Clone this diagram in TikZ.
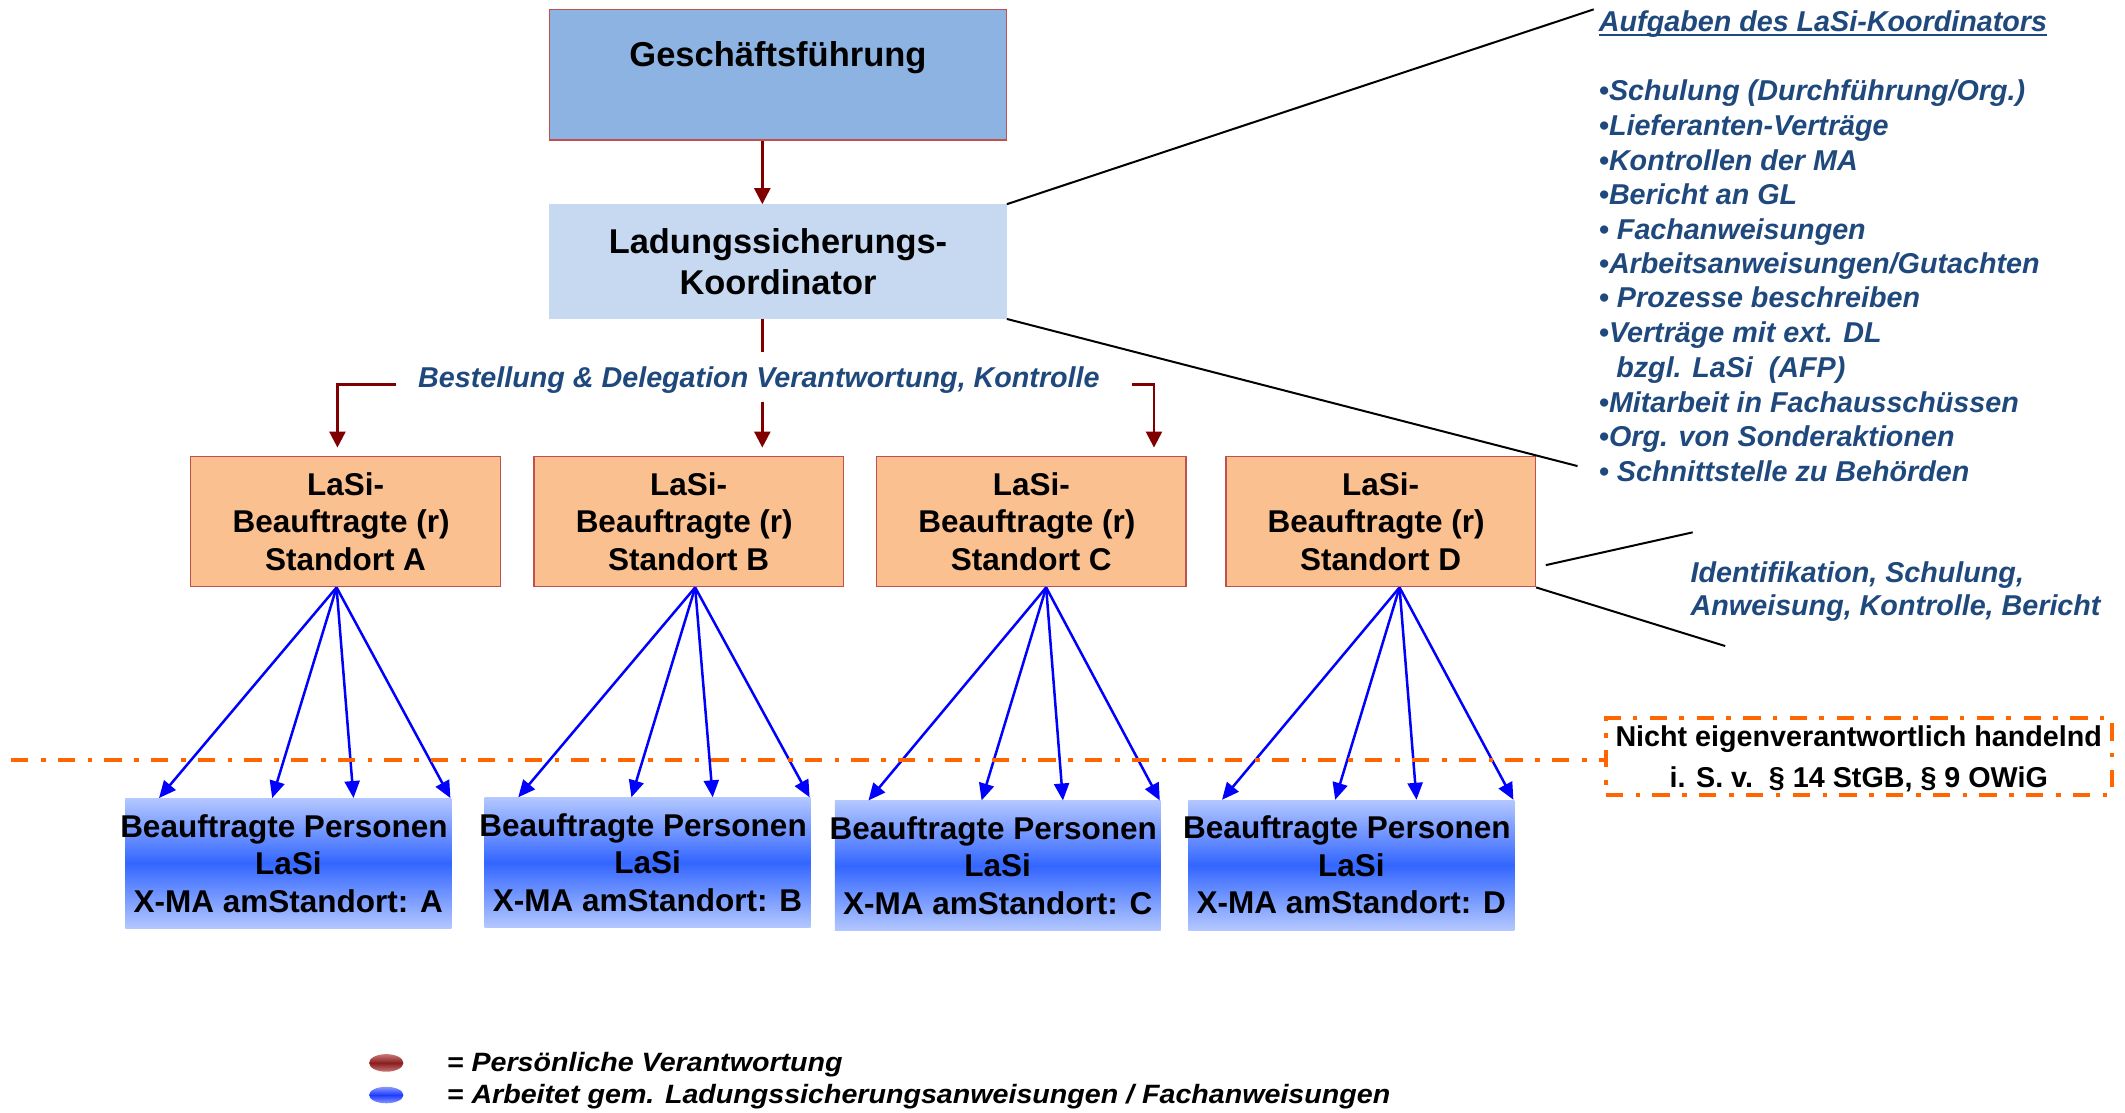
\documentclass[tikz,border=0pt]{standalone}
\usepackage{fontspec}
\setmainfont{Liberation Sans}
\newfontfamily\legfont{Liberation Sans}[FakeStretch=1.08]
\usetikzlibrary{arrows.meta}
\definecolor{gfblue}{HTML}{8DB3E2}
\definecolor{kolight}{HTML}{C6D9F1}
\definecolor{stfill}{HTML}{FAC090}
\definecolor{stdraw}{HTML}{C0504D}
\definecolor{darkred}{HTML}{800000}
\definecolor{txtblue}{HTML}{1F497D}
\definecolor{orng}{HTML}{FF6600}
\definecolor{lightb}{HTML}{B4C8FF}
\definecolor{strongb}{HTML}{3366FF}
\definecolor{legredl}{HTML}{C87878}
\definecolor{legredd}{HTML}{8B1E1E}
\definecolor{legbluel}{HTML}{8A9AFF}
\definecolor{legblued}{HTML}{1E3CFF}
\newcommand\uu{1.3552pt}
\newcommand\lead{\hspace*{-8.8pt}}
\newcommand\fGF{\fontsize{34.5}{42}\selectfont\bfseries}
\newcommand\fKO{\fontsize{34.4}{41.6}\selectfont\bfseries}
\newcommand\fST{\fontsize{31.5}{37.5}\selectfont\bfseries}
\newcommand\fIT{\fontsize{28.7}{34.6}\selectfont\bfseries\itshape}
\newcommand\fNB{\fontsize{28.7}{34.6}\selectfont\bfseries}
\newcommand\fLG{\legfont\fontsize{26.5}{31.6}\selectfont\bfseries\itshape}
\begin{document}
\begin{tikzpicture}[x=1.3552pt, y=-1.3552pt,
  box/.style={rectangle, inner sep=0pt, align=center},
  gfbox/.style={box, fill=gfblue, draw=stdraw, line width=1.5pt, minimum width=337.5*\uu, minimum height=96.4*\uu},
  kobox/.style={box, fill=kolight, minimum width=337.5*\uu, minimum height=84.4*\uu, font=\fKO},
  stbox/.style={box, fill=stfill, draw=stdraw, line width=1.5pt, minimum width=228.5*\uu, minimum height=95.9*\uu, font=\fST},
  pbox/.style={box, top color=lightb, bottom color=lightb, middle color=strongb, minimum width=240.5*\uu, minimum height=96*\uu, font=\fST},
  redarr/.style={draw=darkred, line width=2.5pt, -{Triangle[length=16pt, width=16pt]}},
  redln/.style={draw=darkred, line width=2.5pt},
  bluearr/.style={draw=blue, line width=2.5pt, -{Triangle[length=17pt, width=15pt]}},
  blk/.style={draw=black, line width=2pt},
  dashdot/.style={draw=orng, line width=4pt, dash pattern=on 17.3pt off 12.7pt on 4.7pt off 12pt},
  bluetxt/.style={inner sep=0pt, anchor=base west, font=\fIT, text=txtblue},
]
\useasboundingbox (0,0) rectangle (1568,821);

% top boxes
\node[gfbox] (gf) at (574.05,55.1) {};
\node[inner sep=0pt, anchor=base, font=\fGF] (gft) at (574.05,49.2) {Geschäftsführung};
\node[kobox] (ko) at (574.05,193) {Ladungssicherungs-\\Koordinator};

% Standort boxes
\node[stbox] (sa) at (254.95,384.95) {LaSi-\\\lead Beauftragte (r)\\Standort A};
\node[stbox] (sb) at (508.15,384.95) {LaSi-\\\lead Beauftragte (r)\\Standort B};
\node[stbox] (sc) at (760.95,384.95) {LaSi-\\\lead Beauftragte (r)\\Standort C};
\node[stbox] (sd) at (1018.7,384.95) {LaSi-\\\lead Beauftragte (r)\\Standort D};

% bottom boxes
\node[pbox] (pa) at (212.75,637) {\lead Beauftragte Personen\\LaSi\\X-MA amStandort: A};
\node[pbox] (pb) at (477.8,636.45) {\lead Beauftragte Personen\\LaSi\\X-MA amStandort: B};
\node[pbox] (pc) at (736.2,638.8) {\lead Beauftragte Personen\\LaSi\\X-MA amStandort: C};
\node[pbox] (pd) at (997.1,638.3) {\lead Beauftragte Personen\\LaSi\\X-MA amStandort: D};

% red connectors
\coordinate (mx) at (562.5,0);
\coordinate (bj) at (562.5,260);
\coordinate (mstart) at (562.5,296.4);
\coordinate (lstart) at (292,283.6);
\coordinate (lx) at (249,0);
\coordinate (rstart) at (835,283.6);
\coordinate (rx) at (851.5,0);
\draw[redarr] (gf.south -| mx) -- (ko.north -| mx);
\draw[redln] (ko.south -| mx) -- (bj);
\draw[redarr, shorten >=8.4pt] (mstart) -- (sb.north -| mx);
\draw[redarr, shorten >=8.4pt] (lstart) -| (sa.north -| lx);
\draw[redarr, shorten >=8.4pt] (rstart) -| (sc.north -| rx);
\node[inner sep=0pt, anchor=base, font=\fIT, text=txtblue] (bestell) at (560,285.8) {Bestellung \& Delegation Verantwortung, Kontrolle};

% blue connectors
\foreach \s/\o in {a/108.2,b/119.6,c/125.8,d/128.8}
  \foreach \t in {25,108.5,168.5,240}
    \draw[bluearr] ([xshift=\o*1.3552pt]s\s.south west) -- ([xshift=\t*1.3552pt]p\s.north west);

% black lines
\coordinate (l1e) at (1176,6.9);
\coordinate (l2e) at (1164,343.9);
\coordinate (l3s) at (1140.6,417);
\coordinate (l3e) at (1249,392.8);
\coordinate (l4e) at (1273,476.7);
\draw[blk] (ko.north east) -- (l1e);
\draw[blk] (ko.south east) -- (l2e);
\draw[blk] (l3s) -- (l3e);
\draw[blk] (sd.south east) -- (l4e);

% task list
\node[bluetxt] (ttl) at (1179.7,23.4) {Aufgaben des LaSi-Koordinators};
\draw[txtblue, line width=2pt] ([yshift=-2.9pt]ttl.base west) -- ([yshift=-2.9pt]ttl.base east);
\node[bluetxt] (it1) at (1179.7,74.4) {•Schulung (Durchführung/Org.)};
\node[bluetxt] (it2) at (1179.7,100.3) {•Lieferanten-Verträge};
\node[bluetxt] (it3) at (1179.7,125.7) {•Kontrollen der MA};
\node[bluetxt] (it4) at (1179.7,150.9) {•Bericht an GL};
\node[bluetxt] (it5) at (1179.7,176.6) {• Fachanweisungen};
\node[bluetxt] (it6) at (1179.7,201.9) {•Arbeitsanweisungen/Gutachten};
\node[bluetxt] (it7) at (1179.7,227.1) {• Prozesse beschreiben};
\node[bluetxt] (it8) at (1179.7,252.5) {•Verträge mit ext. DL};
\node[bluetxt] (it9) at (1192.5,278.7) {bzgl. LaSi~~(AFP)};
\node[bluetxt] (it10) at (1179.7,304.5) {•Mitarbeit in Fachausschüssen};
\node[bluetxt] (it11) at (1179.7,329.7) {•Org. von Sonderaktionen};
\node[bluetxt] (it12) at (1179.7,355) {• Schnittstelle zu Behörden};

% Identifikation
\node[bluetxt] (id1) at (1247.4,429.5) {Identifikation, Schulung,};
\node[bluetxt] (id2) at (1247.4,454) {Anweisung, Kontrolle, Bericht};

% Nicht box and dash-dot line
\node[draw=orng, dashdot, inner sep=0pt, minimum width=373.5*\uu, minimum height=56.6*\uu] (nb) at (1371.55,558.3) {};
\coordinate (ol) at (8,560.8);
\draw[dashdot] (ol) -- (ol -| nb.west);
\node[inner sep=0pt, anchor=base, font=\fNB] (nb1) at (1371.5,550.5) {Nicht eigenverantwortlich handelnd};
\node[inner sep=0pt, anchor=base, font=\fNB] (nb2) at (1371.5,581) {i. S. v.~~§ 14 StGB, § 9 OWiG};

% legend
\shade[top color=legredl, bottom color=legredl, middle color=legredd] (285,784.3) ellipse [x radius=12.65, y radius=6.5];
\shade[top color=legbluel, bottom color=legbluel, middle color=legblued] (285,808) ellipse [x radius=12.65, y radius=6.1];
\node[inner sep=0pt, anchor=base west, font=\fLG] (lg1) at (329.6,790.8) {= Persönliche Verantwortung};
\node[inner sep=0pt, anchor=base west, font=\fLG] (lg2) at (329.6,814.1) {= Arbeitet gem. Ladungssicherungsanweisungen / Fachanweisungen};
\end{tikzpicture}
\end{document}
